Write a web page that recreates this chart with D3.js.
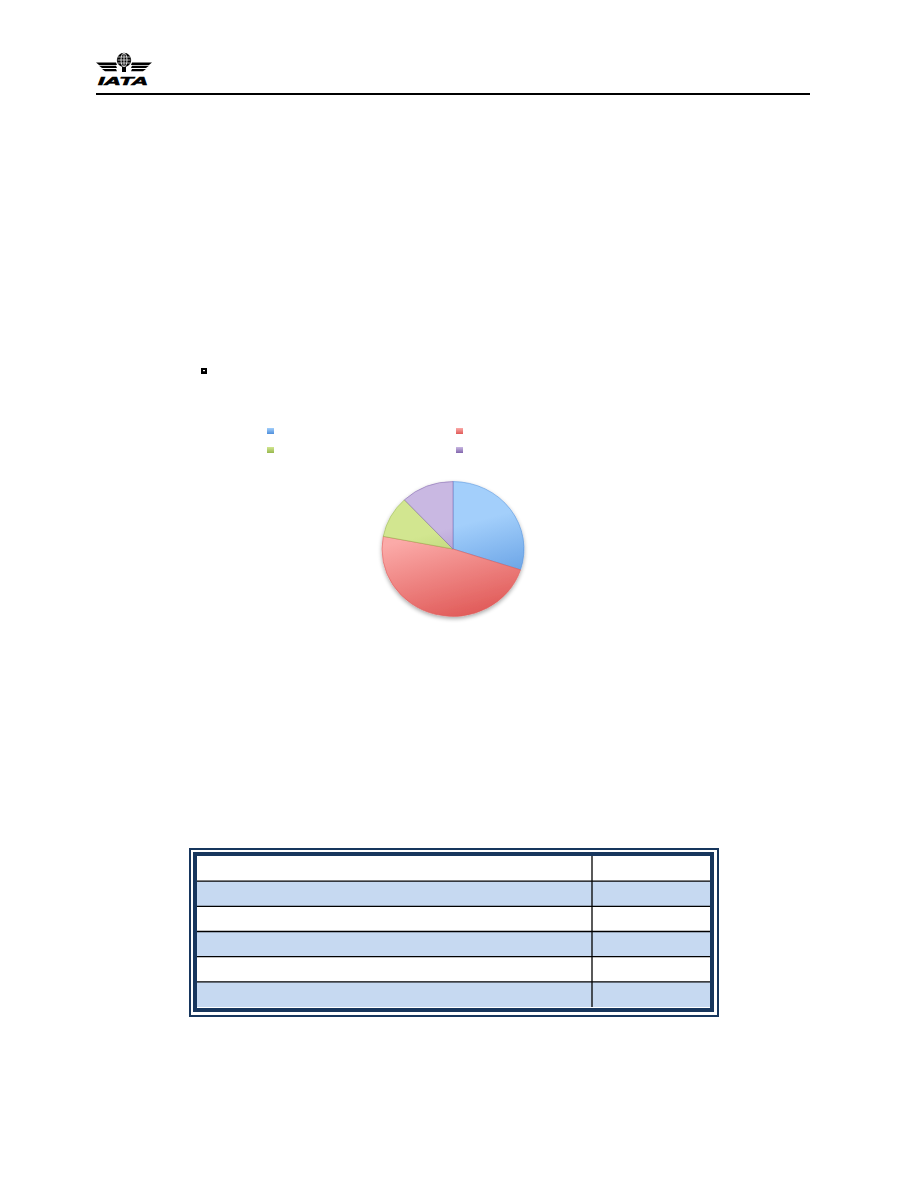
<!DOCTYPE html>
<html>
<head>
<meta charset="utf-8">
<script src="https://cdn.jsdelivr.net/npm/d3@7"></script>
<style>
  html, body { margin: 0; padding: 0; background: #fff; }
  svg { display: block; }
</style>
</head>
<body>
<svg id="page" width="918" height="1188"></svg>
<script>
// ---- data ----
var categories = ["A", "B", "C", "D"];
var shares = [30, 48, 10, 12];
var sliceLight = ["#a3cffb", "#fbaaa8", "#d2e690", "#c9b8e2"];
var sliceDark = ["#4f8fdc", "#e05a58", "#97b84e", "#8266ad"];
var tableRows = [0, 1, 2, 3, 4, 5];
var rowShaded = [false, true, false, true, false, true];

var svg = d3.select("#page");
var defs = svg.append("defs");

// ---- header: logo + rule ----
var logo = svg.append("g").attr("class", "logo");
// wings
[0, 1, 2].forEach(function(i) {
  var y = 62.5 + i * 3.2;
  logo.append("path")
      .attr("d", "M" + (96 + i * 3) + "," + y + " L116," + y + " L117," + (y + 2.4) + " L" + (99 + i * 3) + "," + (y + 2.4) + " Z")
      .attr("fill", "#000");
  logo.append("path")
      .attr("d", "M" + (152 - i * 3) + "," + y + " L132," + y + " L131," + (y + 2.4) + " L" + (149 - i * 3) + "," + (y + 2.4) + " Z")
      .attr("fill", "#000");
});
// globe
logo.append("circle").attr("cx", 124).attr("cy", 60).attr("r", 7.2).attr("fill", "#000");
logo.append("ellipse").attr("cx", 124).attr("cy", 60).attr("rx", 3).attr("ry", 7)
    .attr("fill", "none").attr("stroke", "#fff").attr("stroke-width", 0.8);
logo.append("line").attr("x1", 124).attr("x2", 124).attr("y1", 53).attr("y2", 67)
    .attr("stroke", "#fff").attr("stroke-width", 0.8);
[57, 60, 63].forEach(function(y) {
  logo.append("line").attr("x1", 117.5).attr("x2", 130.5).attr("y1", y).attr("y2", y)
      .attr("stroke", "#fff").attr("stroke-width", 0.7);
});
logo.append("rect").attr("x", 122).attr("y", 67).attr("width", 4).attr("height", 5).attr("fill", "#000");
logo.append("text")
    .attr("x", 98).attr("y", 85)
    .attr("font-family", "Liberation Sans, Arial, sans-serif")
    .attr("font-weight", "bold").attr("font-style", "italic")
    .attr("font-size", 11.5)
    .attr("stroke", "#000").attr("stroke-width", 0.6)
    .attr("textLength", 50).attr("lengthAdjust", "spacingAndGlyphs")
    .text("IATA");

svg.append("line")
    .attr("x1", 96).attr("x2", 810)
    .attr("y1", 94).attr("y2", 94)
    .attr("stroke", "#000").attr("stroke-width", 2);

// bullet
svg.append("rect").attr("x", 201).attr("y", 368).attr("width", 6).attr("height", 6).attr("fill", "#000");
svg.append("rect").attr("x", 203).attr("y", 370).attr("width", 2).attr("height", 1.2).attr("fill", "#fff");

// ---- gradients ----
categories.forEach(function(d, i) {
  var lg = defs.append("linearGradient").attr("id", "lg" + i)
      .attr("x1", 0).attr("y1", 0).attr("x2", 0).attr("y2", 1);
  lg.append("stop").attr("offset", "0%").attr("stop-color", sliceLight[i]);
  lg.append("stop").attr("offset", "100%").attr("stop-color", sliceDark[i]);
  var pg = defs.append("linearGradient").attr("id", "pg" + i)
      .attr("gradientUnits", "userSpaceOnUse")
      .attr("x1", -20).attr("y1", -71).attr("x2", 20).attr("y2", 71);
  pg.append("stop").attr("offset", "0%").attr("stop-color", sliceLight[i]);
  pg.append("stop").attr("offset", "35%").attr("stop-color", sliceLight[i]);
  pg.append("stop").attr("offset", "100%").attr("stop-color", sliceDark[i]);
});

// ---- legend ----
var legendX = d3.scalePoint().domain([0, 1]).range([270, 459]);
var legendY = d3.scalePoint().domain([0, 1]).range([431, 450]);
var legend = svg.append("g").selectAll("g")
    .data(categories)
    .enter().append("g")
      .attr("transform", function(d, i) {
        return "translate(" + legendX(i % 2) + "," + legendY(Math.floor(i / 2)) + ")";
      });

legend.append("rect")
    .attr("x", -3).attr("y", -3)
    .attr("width", 7).attr("height", 6)
    .attr("fill", function(d, i) { return "url(#lg" + i + ")"; });

// ---- pie ----
var radius = 71;
var pie = d3.pie().sort(null).value(function(d) { return d; });
var arc = d3.arc().innerRadius(0).outerRadius(radius);

var shadow = defs.append("filter").attr("id", "shadow")
    .attr("x", "-20%").attr("y", "-20%").attr("width", "140%").attr("height", "140%");
shadow.append("feGaussianBlur").attr("in", "SourceAlpha").attr("stdDeviation", 2);
shadow.append("feOffset").attr("dx", 0).attr("dy", 2).attr("result", "b");
shadow.append("feComponentTransfer").append("feFuncA").attr("type", "linear").attr("slope", 0.35);
var merge = shadow.append("feMerge");
merge.append("feMergeNode");
merge.append("feMergeNode").attr("in", "SourceGraphic");

var pieG = svg.append("g")
    .attr("transform", "translate(453,549) scale(1,0.95)")
    .attr("filter", "url(#shadow)");

pieG.selectAll("path")
    .data(pie(shares))
    .enter().append("path")
      .attr("d", arc)
      .attr("fill", function(d, i) { return "url(#pg" + i + ")"; })
      .attr("stroke", function(d, i) { return sliceDark[i]; })
      .attr("stroke-width", 0.8)
      .attr("stroke-opacity", 0.7);

// ---- table ----
var tbl = { x0: 197, x1: 710, y0: 856, y1: 1007, split: 592 };
var rowY = d3.scaleBand().domain(tableRows).range([tbl.y0, tbl.y1]);

var t = svg.append("g");
t.append("rect")
    .attr("x", 190).attr("y", 849)
    .attr("width", 718 - 190).attr("height", 1016 - 849)
    .attr("fill", "none").attr("stroke", "#17365d").attr("stroke-width", 2);
t.append("rect")
    .attr("x", 195).attr("y", 854)
    .attr("width", 712 - 195).attr("height", 1010 - 854)
    .attr("fill", "none").attr("stroke", "#17365d").attr("stroke-width", 4);

t.selectAll(".row")
    .data(tableRows)
    .enter().append("rect")
      .attr("class", "row")
      .attr("x", tbl.x0).attr("width", tbl.x1 - tbl.x0)
      .attr("y", function(d) { return rowY(d); })
      .attr("height", rowY.bandwidth())
      .attr("fill", function(d, i) { return rowShaded[i] ? "#c6d9f1" : "#fff"; });

t.selectAll(".rowline")
    .data(tableRows.slice(1))
    .enter().append("line")
      .attr("x1", tbl.x0).attr("x2", tbl.x1)
      .attr("y1", function(d) { return rowY(d); })
      .attr("y2", function(d) { return rowY(d); })
      .attr("stroke", "#000").attr("stroke-width", 1.3);

t.append("line")
    .attr("x1", tbl.split).attr("x2", tbl.split)
    .attr("y1", tbl.y0).attr("y2", tbl.y1)
    .attr("stroke", "#000").attr("stroke-width", 1.3);
</script>
</body>
</html>
